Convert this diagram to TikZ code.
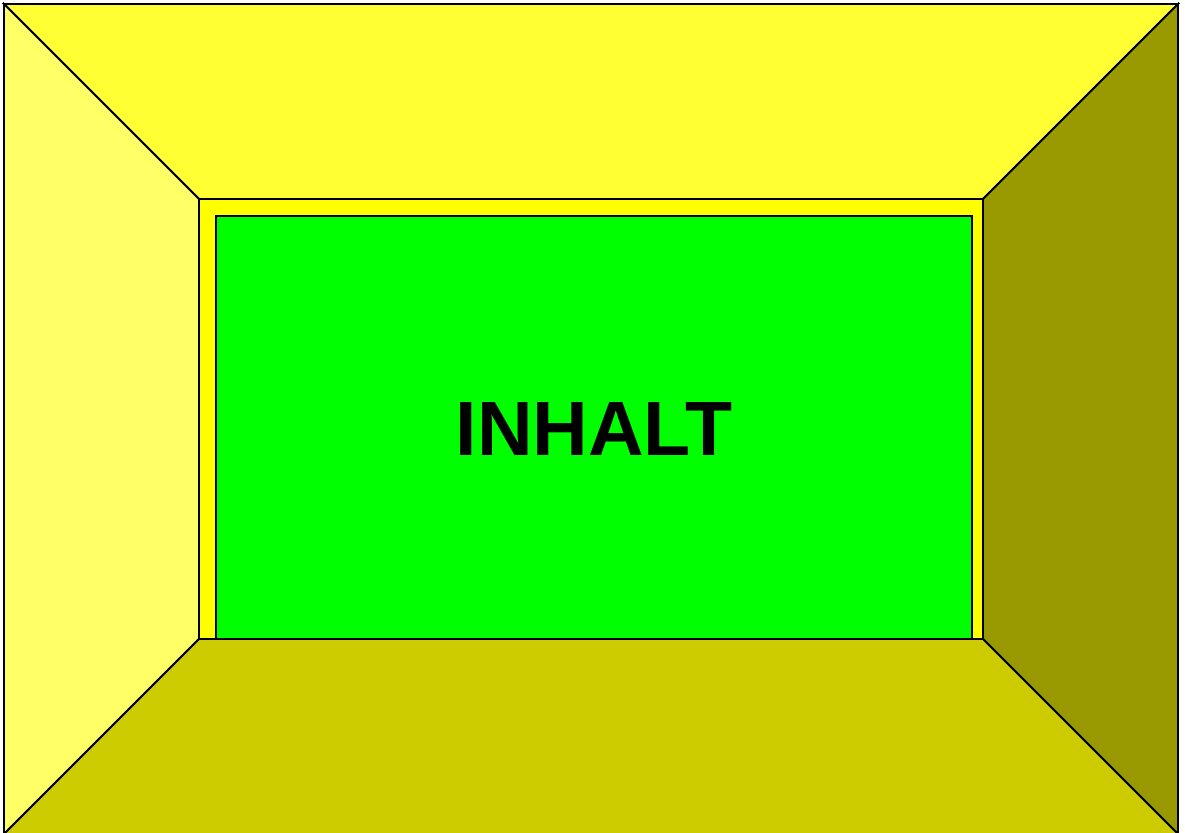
\documentclass[tikz,border=0pt]{standalone}
\usepackage{fontspec}
\setmainfont{Liberation Sans}
\usepackage{tikz}

\definecolor{topface}{RGB}{255,255,51}
\definecolor{leftface}{RGB}{255,255,102}
\definecolor{rightface}{RGB}{153,153,0}
\definecolor{bottomface}{RGB}{204,204,0}
\definecolor{frameface}{RGB}{255,255,0}
\definecolor{contentface}{RGB}{0,255,0}

\begin{document}
\begin{tikzpicture}[x=1pt,y=-1pt,line width=1.8pt,line join=miter,
		face/.style={draw=black},
		label/.style={font=\fontsize{77}{90}\selectfont\bfseries}]
			\useasboundingbox (0,0) rectangle (1185,832);
			\clip (0,0) rectangle (1185,832);
			\draw[face,fill=topface] (4,4) -- (1178,4) -- (983,199) -- (199,199) -- cycle;
			\draw[face,fill=leftface] (4,4) -- (199,199) -- (199,639) -- (4,834) -- cycle;
			\draw[face,fill=rightface] (1178,4) -- (1178,834) -- (983,639) -- (983,199) -- cycle;
			\draw[face,fill=bottomface] (4,834) -- (1178,834) -- (983,639) -- (199,639) -- cycle;
			\draw[face,fill=frameface] (199,199) rectangle (983,639);
			\draw[face,fill=contentface] (216,216) rectangle (972,639);
			\node[label] (inhalt) at (594,429) {INHALT};
		\end{tikzpicture}
\end{document}
